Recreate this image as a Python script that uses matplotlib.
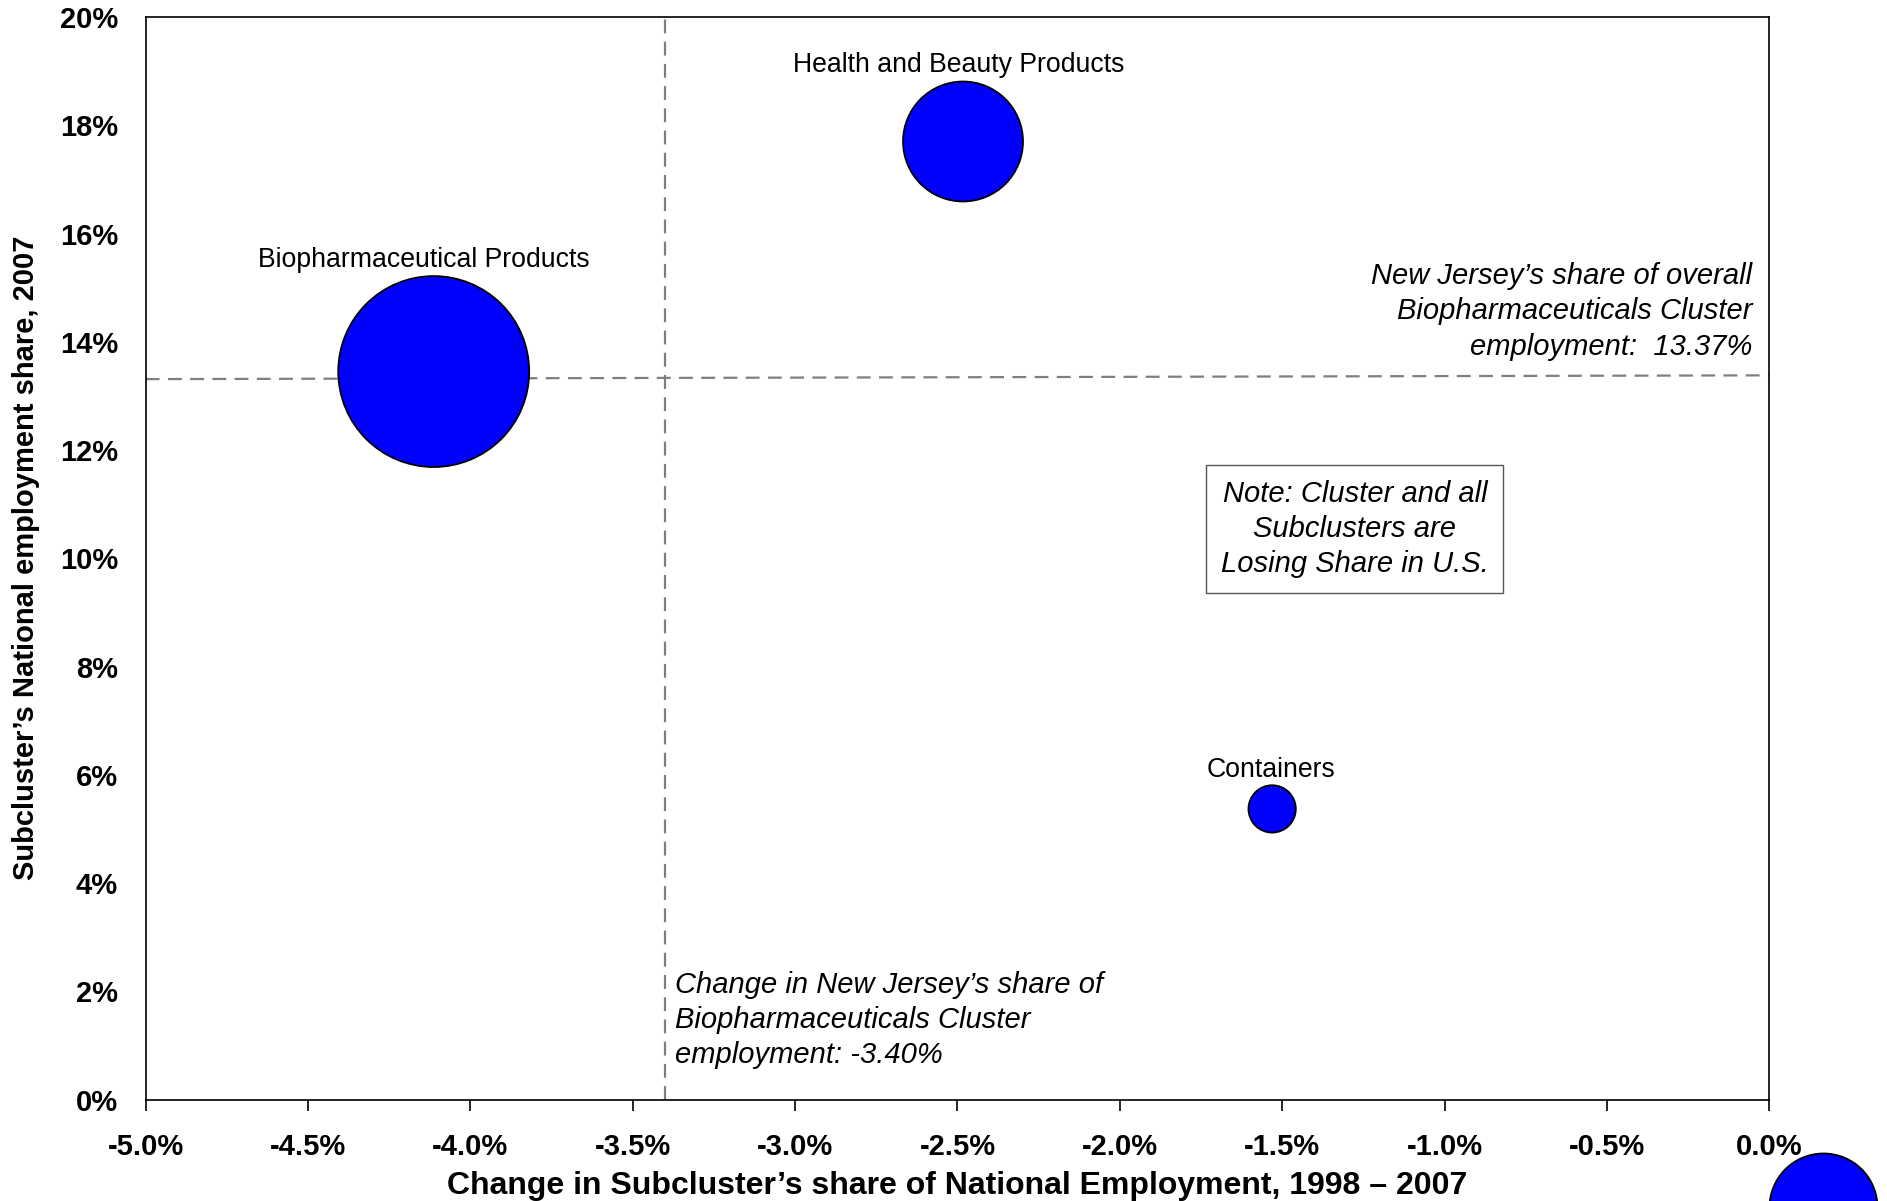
import matplotlib
matplotlib.use("Agg")
import matplotlib.pyplot as plt
from matplotlib.ticker import FuncFormatter

plt.rcParams['font.family'] = ['Liberation Sans', 'DejaVu Sans']
plt.rcParams['lines.scale_dashes'] = False

# ---- data ----
subclusters = ["Biopharmaceutical Products", "Health and Beauty Products", "Containers"]
share_change = [-4.113, -2.483, -1.531]        # x: change in national share 1998-2007 (%)
share_2007 = [13.45, 17.70, 5.37]              # y: national employment share 2007 (%)
bubble_area = [18900, 7460, 1160]              # relative bubble area (employment)

cluster_share_change = -3.40                   # vertical reference line
cluster_share_2007 = [13.31, 13.38]            # horizontal reference line (left, right end)

legend_bubble_x, legend_bubble_y, legend_bubble_area = 0.164, -1.98, 6050

x_ticks = [-5.0, -4.5, -4.0, -3.5, -3.0, -2.5, -2.0, -1.5, -1.0, -0.5, 0.0]
y_ticks = [0, 2, 4, 6, 8, 10, 12, 14, 16, 18, 20]

# ---- figure ----
fig = plt.figure(figsize=(18.87, 12.01), dpi=100)
ax = fig.add_axes([0.07721, 0.08443, 0.86041, 0.90142])
ax.set_xlim(-5.0, 0.0)
ax.set_ylim(0, 20)

dash_kw = dict(color='#7f7f7f', lw=1.6, dashes=(10, 6), zorder=1)
ax.plot([cluster_share_change, cluster_share_change], [0, 20], **dash_kw)
ax.plot([-5.0, 0.0], cluster_share_2007, **dash_kw)

ax.scatter(share_change, share_2007, s=bubble_area, color='#0000ff',
           edgecolors='black', linewidths=1.3, zorder=3)

# legend bubble, partly outside the figure
ax.scatter([legend_bubble_x], [legend_bubble_y], s=[legend_bubble_area], color='#0000ff',
           edgecolors='black', linewidths=1.3, zorder=3, clip_on=False)

# bubble labels
label_pos = {
    "Biopharmaceutical Products": (-4.143, 15.51),
    "Health and Beauty Products": (-2.495, 19.11),
    "Containers": (-1.534, 6.09),
}
for name in subclusters:
    lx, ly = label_pos[name]
    ax.text(lx, ly, name, ha='center', va='center', fontsize=19.2, color='black')

ann_size = 21
ann_ls = 1.32

ax.text(-0.053, 14.56,
        "New Jersey\u2019s share of overall\nBiopharmaceuticals Cluster\nemployment:  13.37%",
        ha='right', va='center', multialignment='right', fontsize=ann_size,
        style='italic', linespacing=ann_ls)

ax.text(-3.370, 1.47,
        "Change in New Jersey\u2019s share of\nBiopharmaceuticals Cluster\nemployment: -3.40%",
        ha='left', va='center', multialignment='left', fontsize=ann_size,
        style='italic', linespacing=ann_ls)

ax.text(-1.276, 10.54,
        "Note: Cluster and all\nSubclusters are\nLosing Share in U.S.",
        ha='center', va='center', multialignment='center', fontsize=ann_size,
        style='italic', linespacing=ann_ls,
        bbox=dict(boxstyle='square,pad=0.5', facecolor='white',
                  edgecolor='#555555', linewidth=1.0))

# axes styling
ax.set_xticks(x_ticks)
ax.set_yticks(y_ticks)
ax.xaxis.set_major_formatter(FuncFormatter(lambda v, p: f"{v:.1f}%"))
ax.yaxis.set_major_formatter(FuncFormatter(lambda v, p: f"{v:.0f}%"))
ax.tick_params(axis='x', direction='out', length=8, width=1.2, pad=16,
               labelsize=21, colors='black')
ax.tick_params(axis='y', length=0, pad=20, labelsize=21)
for lab in ax.get_xticklabels() + ax.get_yticklabels():
    lab.set_fontweight('bold')
for sp in ax.spines.values():
    sp.set_linewidth(1.2)
    sp.set_color('black')

ax.set_xlabel("Change in Subcluster\u2019s share of National Employment, 1998 \u2013 2007",
              fontsize=23, fontweight='bold', labelpad=7)
ax.set_ylabel("Subcluster\u2019s National employment share, 2007",
              fontsize=21, fontweight='bold', labelpad=14)

fig.savefig("out.png", dpi=100)
